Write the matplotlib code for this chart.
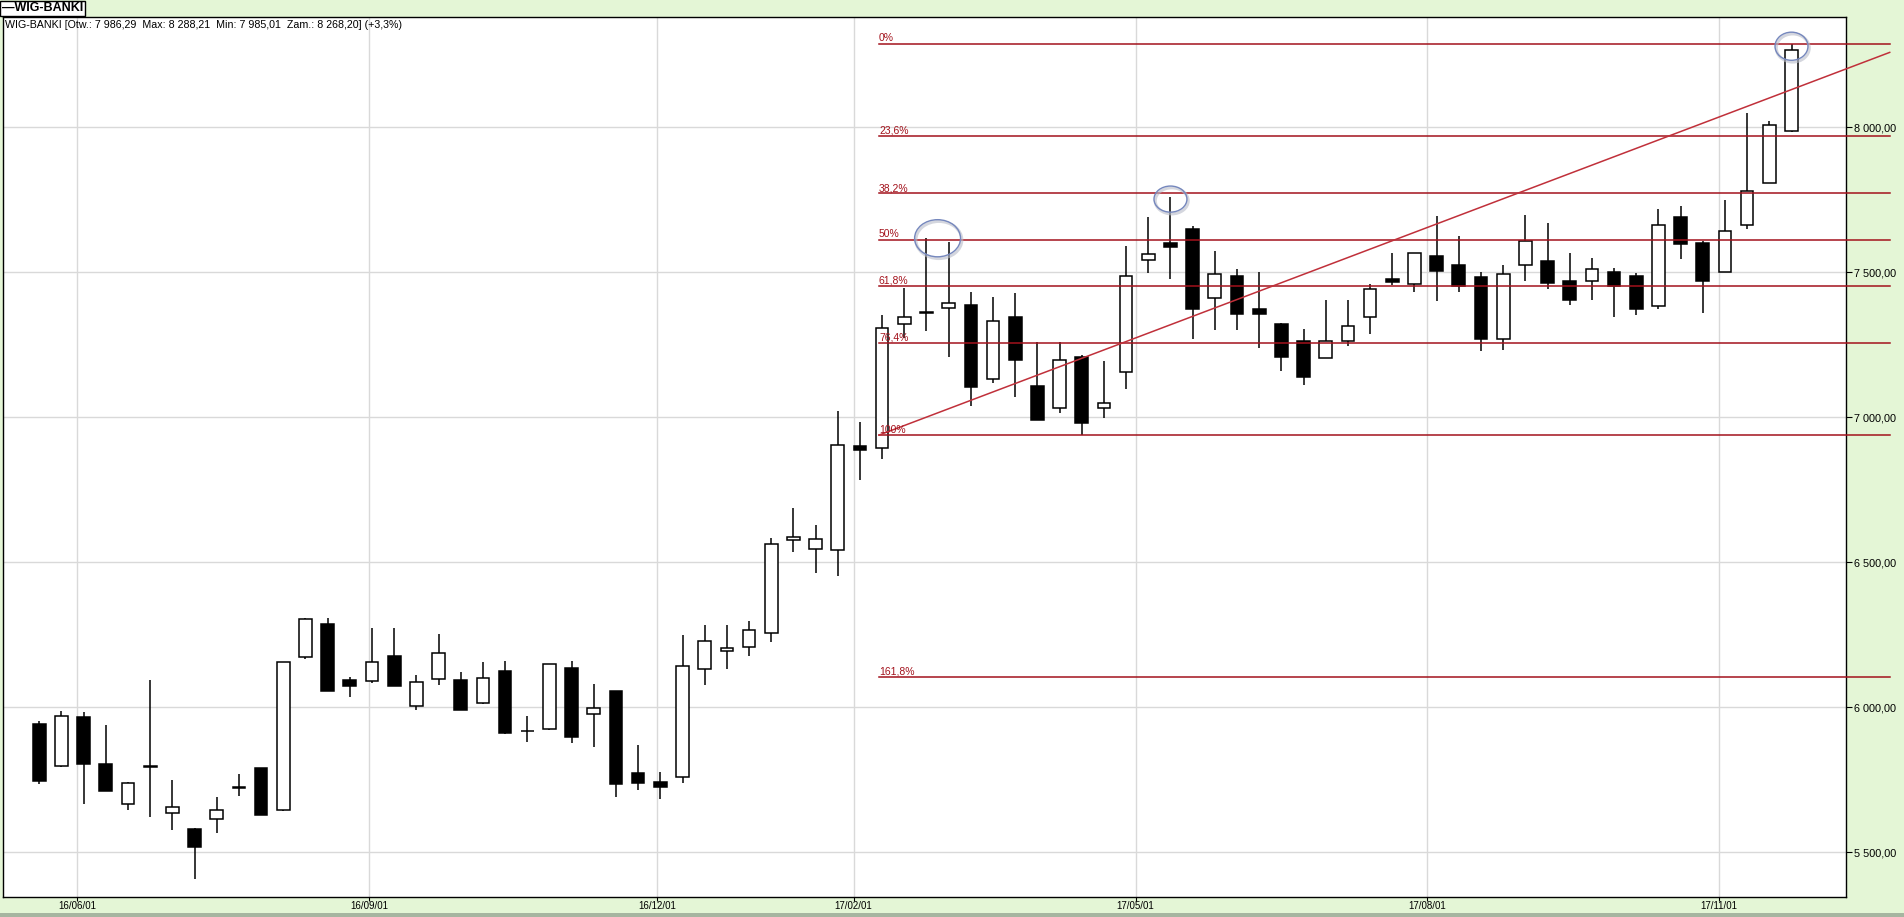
# WIG-BANKI - tygodniowe świece z zniesieniami Fibonacciego i linią trendu
import datetime as dt

import matplotlib
matplotlib.use('Agg')
import matplotlib.pyplot as plt
import matplotlib.dates as mdates
from matplotlib.patches import Ellipse, Rectangle

plt.rcParams['font.family'] = ['Liberation Sans', 'DejaVu Sans']

# Notowania tygodniowe (otwarcie, max, min, zamknięcie)
first_week = dt.date(2016, 5, 20)
opens = [5943, 5797, 5967, 5805, 5666, 5798, 5635, 5581, 5614, 5722,
         5791, 5647, 6175, 6288, 6093, 6090, 6177, 6006, 6099, 6094,
         6016, 6125, 5920, 5924, 6136, 5976, 6057, 5774, 5743, 5761,
         6131, 6196, 6209, 6256, 6576, 6547, 6542, 6900, 6896, 7321,
         7365, 7376, 7387, 7131, 7346, 7108, 7031, 7207, 7031, 7156,
         7542, 7600, 7650, 7411, 7487, 7374, 7322, 7262, 7204, 7262,
         7345, 7477, 7459, 7557, 7526, 7484, 7269, 7524, 7539, 7470,
         7469, 7500, 7487, 7383, 7691, 7602, 7500, 7662, 7807, 7986.29]
highs = [5952, 5987, 5983, 5939, 5742, 6094, 5750, 5583, 5691, 5770,
         5792, 6158, 6307, 6307, 6104, 6273, 6273, 6112, 6253, 6122,
         6157, 6160, 5970, 6150, 6160, 6081, 6057, 5870, 5776, 6250,
         6284, 6284, 6298, 6583, 6688, 6628, 7021, 6984, 7353, 7445,
         7618, 7604, 7431, 7415, 7429, 7259, 7259, 7215, 7194, 7590,
         7691, 7761, 7659, 7574, 7512, 7500, 7327, 7305, 7405, 7405,
         7459, 7567, 7566, 7694, 7626, 7500, 7526, 7698, 7670, 7566,
         7549, 7514, 7497, 7719, 7729, 7609, 7750, 8049, 8022, 8288.21]
lows = [5735, 5795, 5668, 5713, 5647, 5623, 5578, 5409, 5565, 5696,
        5629, 5642, 6168, 6057, 6037, 6085, 6075, 5991, 6078, 5991,
        6011, 5907, 5882, 5923, 5878, 5865, 5692, 5715, 5685, 5740,
        6077, 6133, 6177, 6227, 6537, 6462, 6454, 6785, 6857, 7273,
        7299, 7209, 7040, 7118, 7071, 6992, 7014, 6938, 6997, 7097,
        7497, 7476, 7271, 7302, 7302, 7240, 7161, 7113, 7204, 7247,
        7289, 7455, 7433, 7402, 7433, 7230, 7232, 7471, 7442, 7388,
        7406, 7347, 7352, 7375, 7546, 7361, 7500, 7651, 7807, 7985.01]
closes = [5747, 5969, 5806, 5713, 5739, 5794, 5655, 5520, 5645, 5724,
          5630, 6157, 6304, 6058, 6075, 6156, 6075, 6087, 6187, 5991,
          6100, 5913, 5918, 6149, 5899, 5997, 5737, 5740, 5727, 6142,
          6228, 6205, 6266, 6562, 6587, 6580, 6904, 6889, 7307, 7346,
          7361, 7393, 7106, 7331, 7199, 6992, 7197, 6980, 7049, 7487,
          7562, 7589, 7375, 7493, 7358, 7358, 7209, 7140, 7262, 7314,
          7442, 7466, 7566, 7506, 7453, 7269, 7493, 7608, 7462, 7406,
          7511, 7454, 7375, 7662, 7599, 7471, 7642, 7780, 8007, 8268.20]

# Fibonacci
fib_high = 8288.21
fib_low = 6938
fib_ratios = [0, 0.236, 0.382, 0.5, 0.618, 0.764, 1.0, 1.618]
fib_labels = ['0%', '23,6%', '38,2%', '50%', '61,8%', '76,4%', '100%', '161,8%']
fib_dates = [dt.date(2017, 2, 9), dt.date(2017, 12, 25)]

# linia trendu
trend_dates = [dt.date(2017, 2, 9), dt.date(2017, 12, 25)]
trend_values = [6939, 8259]

# zaznaczone szczyty (nr świecy, szerokość w dniach, wysokość w pkt)
marked = [(40.5, 14.5, 128), (51, 10.4, 90), (79, 10.4, 97)]

date_ticks = [dt.date(2016, 6, 1), dt.date(2016, 9, 1), dt.date(2016, 12, 1),
              dt.date(2017, 2, 1), dt.date(2017, 5, 1), dt.date(2017, 8, 1),
              dt.date(2017, 11, 1)]
value_ticks = [5500, 6000, 6500, 7000, 7500, 8000]

bg = '#e4f6d6'
fib_color = '#a3121c'

fig = plt.figure(figsize=(19.04, 9.17), dpi=100, facecolor=bg)
ax = fig.add_axes([2.7 / 1904, 1 - 896.7 / 917, (1846 - 2.7) / 1904, (896.7 - 17.3) / 917])
ax.set_facecolor('white')

x0 = mdates.date2num(first_week)
xs = [x0 + 7 * i for i in range(len(opens))]

# świece
for x, o, h, l, c in zip(xs, opens, highs, lows, closes):
    ax.vlines(x, l, h, color='black', linewidth=1.1, zorder=3)
    up = c >= o
    ax.bar(x, abs(c - o), bottom=min(o, c), width=4.0,
           color='white' if up else 'black', edgecolor='black',
           linewidth=1.1, zorder=4)

# poziomy Fibonacciego
fx = mdates.date2num(fib_dates)
for r, lab in zip(fib_ratios, fib_labels):
    lvl = fib_high - r * (fib_high - fib_low)
    ax.plot(fx, [lvl, lvl], color=fib_color, linewidth=1.1, zorder=5, clip_on=False)
    ax.annotate(lab, xy=(fx[0], lvl), xytext=(0, 0.3), textcoords='offset points',
                color=fib_color, fontsize=7.5, ha='left', va='bottom', zorder=6)

# linia trendu
ax.plot(mdates.date2num(trend_dates), trend_values, color='#c0303a',
        linewidth=1.1, zorder=5, clip_on=False)

# kółka
for idx, w, hgt in marked:
    cx = x0 + 7 * idx
    cy = max(highs[int(idx)], highs[min(int(idx) + 1, len(highs) - 1)]) if idx % 1 else highs[int(idx)] - 8
    ax.add_patch(Ellipse((cx + 0.4, cy - 6), w, hgt, fill=False, edgecolor='#b8bcc8',
                         linewidth=2.2, alpha=0.6, zorder=6))
    ax.add_patch(Ellipse((cx, cy), w, hgt, fill=False, edgecolor='#7587bd',
                         linewidth=1.0, zorder=7))

ax.set_xlim(x0 - 11.55, x0 + 570.2)
ax.set_ylim(5347, 8380)

ax.set_xticks(mdates.date2num(date_ticks))
ax.xaxis.set_major_formatter(mdates.DateFormatter('%y/%m/%d'))
ax.set_yticks(value_ticks)
ax.set_yticklabels(['{:,.2f}'.format(v).replace(',', ' ').replace('.', ',') for v in value_ticks])
ax.yaxis.tick_right()
ax.tick_params(axis='y', direction='out', length=4, width=0.8, pad=1.5, labelsize=7.8)
ax.tick_params(axis='x', direction='out', length=3, width=0.8, pad=0, labelsize=7)
ax.grid(color='#d9d9d9', linewidth=1.0, zorder=0)
ax.set_axisbelow(True)
for s in ax.spines.values():
    s.set_color('black')
    s.set_linewidth(1.0)

# opis notowań
ax.annotate('WIG-BANKI [Otw.: 7 986,29  Max: 8 288,21  Min: 7 985,01  Zam.: 8 268,20] (+3,3%)',
            xy=(0, 1), xycoords='axes fraction', xytext=(2.0, -2.2), textcoords='offset points',
            fontsize=7.7, ha='left', va='top', zorder=8)

# legenda u góry
fig.text(1.8 / 1904, 1 - 8.2 / 917, '\u2014WIG-BANKI', fontsize=9, fontweight='bold',
         ha='left', va='center',
         bbox=dict(boxstyle='square,pad=0.12', facecolor='white', edgecolor='black', linewidth=1))

# pasek na dole
fig.patches.append(Rectangle((0, 0), 1, 4 / 917, transform=fig.transFigure,
                             facecolor='#a6b5a0', edgecolor='none'))

fig.savefig('out.png', dpi=100, facecolor=bg)
